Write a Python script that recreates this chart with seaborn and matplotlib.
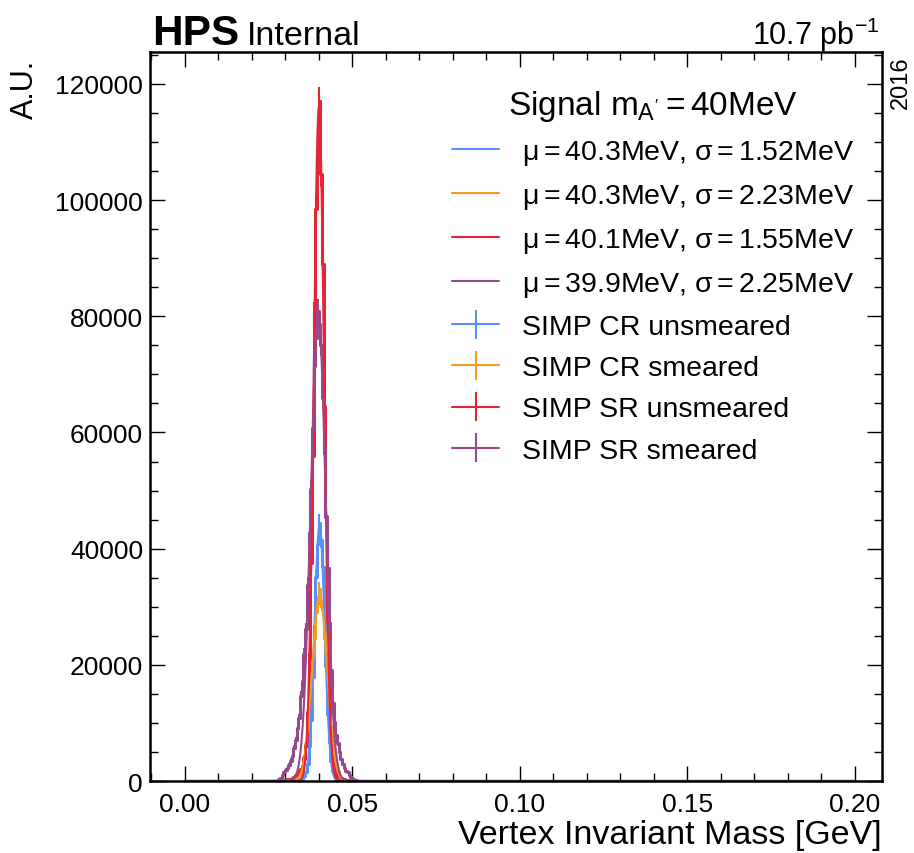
import numpy as np
import pandas as pd
import matplotlib
matplotlib.use('Agg')
import matplotlib.pyplot as plt
import seaborn as sns
from matplotlib.ticker import MultipleLocator, AutoMinorLocator, FuncFormatter

# 0.5 MeV bins from 0 to 0.2 GeV, only 28-52 MeV are non-empty
bin_width = 0.0005
n_bins = 400
peak_start = 0.028

cr_unsmeared = [10, 15, 20, 25, 35, 45, 60, 80, 100, 130, 170, 220,
                300, 390, 520, 800, 1500, 3000, 6100, 10500, 17900, 25800, 35200, 40800,
                44500, 41500, 36800, 27400, 19800, 11600, 6900, 3500, 1700, 800, 420, 280,
                200, 150, 110, 80, 60, 45, 30, 20, 15, 10, 8, 5]
cr_smeared = [30, 45, 60, 80, 110, 150, 200, 260, 330, 420, 560, 780,
              1100, 1650, 2600, 4100, 6300, 8800, 12900, 16200, 21400, 24700, 29100, 30600,
              33000, 31000, 29600, 25400, 22200, 17100, 13600, 9400, 6900, 4200, 2800, 1700,
              1000, 600, 380, 250, 170, 120, 85, 60, 42, 30, 20, 14]
sr_unsmeared = [60, 90, 120, 150, 210, 260, 330, 420, 520, 700, 1000, 1300,
                1600, 2000, 2600, 3800, 6100, 11800, 21000, 37500, 56000, 80500, 98500, 108000,
                117000, 104500, 89000, 64500, 45500, 27500, 15200, 7800, 3900, 2100, 1300, 900,
                680, 530, 410, 320, 250, 190, 150, 110, 80, 60, 40, 30]
sr_smeared = [400, 600, 1100, 1500, 1900, 2300, 2800, 3500, 4300, 5600, 7000, 9200,
              10800, 14600, 17300, 21900, 26100, 33800, 41500, 50200, 60800, 71400, 76200, 81000,
              78600, 75100, 65900, 57800, 45700, 36600, 27200, 19100, 13400, 10200, 8000, 6600,
              5000, 3800, 2900, 2300, 1800, 1500, 1100, 700, 400, 220, 120, 60]

hist_names = ['SIMP CR unsmeared', 'SIMP CR smeared', 'SIMP SR unsmeared', 'SIMP SR smeared']
fit_mu = [40.3, 40.3, 40.1, 39.9]        # MeV
fit_sigma = [1.52, 2.23, 1.55, 2.25]     # MeV
fit_amp = [44000, 32000, 116000, 80000]
colors = ['#5790fc', '#f89c20', '#e42536', '#964a8b']
event_weight = 49.0

sns.set_style('ticks')
plt.rcParams['font.family'] = ['Liberation Sans', 'DejaVu Sans']
plt.rcParams['mathtext.fontset'] = 'custom'
plt.rcParams['mathtext.rm'] = 'Liberation Sans'
plt.rcParams['mathtext.it'] = 'Liberation Sans'
plt.rcParams['mathtext.bf'] = 'Liberation Sans:bold'
for k in ['text.color', 'axes.labelcolor', 'xtick.color', 'ytick.color', 'axes.edgecolor']:
    plt.rcParams[k] = 'black'

fig = plt.figure(figsize=(9.14, 8.54), dpi=100)
ax = fig.add_axes([0.1641, 0.0843, 0.8009, 0.8536])

edges = np.round(np.arange(n_bins + 1) * bin_width, 6)
centers = edges[:-1] + bin_width / 2
start = int(round(peak_start / bin_width))
xs = np.linspace(0, 0.2, 2001)

fit_handles, err_handles = [], []
for i, vals in enumerate([cr_unsmeared, cr_smeared, sr_unsmeared, sr_smeared]):
    counts = np.zeros(n_bins)
    counts[start:start + len(vals)] = vals
    df = pd.DataFrame({'mass': centers, 'w': counts})
    sns.histplot(data=df, x='mass', weights='w', binwidth=bin_width, binrange=(0, 0.2),
                 element='step', fill=False, color=colors[i], linewidth=2.2, ax=ax)
    m = counts > 0
    ax.errorbar(centers[m], counts[m], yerr=np.sqrt(counts[m] * event_weight),
                fmt='none', ecolor=colors[i], elinewidth=1.5)
    err_handles.append(ax.errorbar([np.nan], [np.nan], yerr=[1.0], color=colors[i],
                                   lw=1.5, elinewidth=1.5))

for i in range(4):
    y = fit_amp[i] * np.exp(-0.5 * ((xs * 1000 - fit_mu[i]) / fit_sigma[i]) ** 2)
    sns.lineplot(x=xs, y=y, color=colors[i], linewidth=1.5, ax=ax)
    fit_handles.append(ax.lines[-1])

fit_labels = [rf'$\mu = {fit_mu[i]:.1f}$MeV, $\sigma = {fit_sigma[i]:.2f}$MeV' for i in range(4)]
ax.legend(fit_handles + err_handles, fit_labels + hist_names,
          title=r"Signal $m_{A^{\prime}} = 40$MeV", title_fontsize=24, fontsize=20.5,
          loc='upper right', bbox_to_anchor=(0.997, 0.986), frameon=False,
          handlelength=1.65, handletextpad=0.8, labelspacing=0.53)

ax.set_xlim(-0.0103, 0.2081)
ax.set_ylim(0, 125500)
ax.xaxis.set_major_locator(MultipleLocator(0.05))
ax.xaxis.set_minor_locator(AutoMinorLocator(5))
ax.yaxis.set_major_locator(MultipleLocator(20000))
ax.yaxis.set_minor_locator(AutoMinorLocator(4))
ax.xaxis.set_major_formatter(FuncFormatter(lambda v, p: f'{v:.2f}'))
ax.yaxis.set_major_formatter(FuncFormatter(lambda v, p: f'{v:.0f}'))
ax.tick_params(which='both', direction='in', top=True, right=True, labelsize=19, width=1)
ax.tick_params(which='major', length=11)
ax.tick_params(which='minor', length=5.5)
ax.tick_params(axis='x', pad=8)
ax.tick_params(axis='y', pad=5)
for s in ax.spines.values():
    s.set_linewidth(1.8)

ax.set_xlabel('Vertex Invariant Mass [GeV]', fontsize=24.5, loc='right', labelpad=2)
ax.set_ylabel('')
ax.text(-0.1706, 0.99, 'A.U.', rotation=90, ha='center', va='top', fontsize=22,
        transform=ax.transAxes)

ax.text(0.003, 1.011, 'HPS', fontsize=30.5, fontweight='bold', va='baseline',
        transform=ax.transAxes)
ax.text(0.133, 1.011, 'Internal', fontsize=24.5, va='baseline', transform=ax.transAxes)
ax.text(0.997, 1.011, r'10.7 pb$^{-1}$', fontsize=22, ha='right', va='baseline',
        transform=ax.transAxes)
ax.text(1.011, 0.995, '2016', rotation=90, ha='left', va='top', fontsize=17,
        transform=ax.transAxes)

fig.savefig('out.png', dpi=100)
